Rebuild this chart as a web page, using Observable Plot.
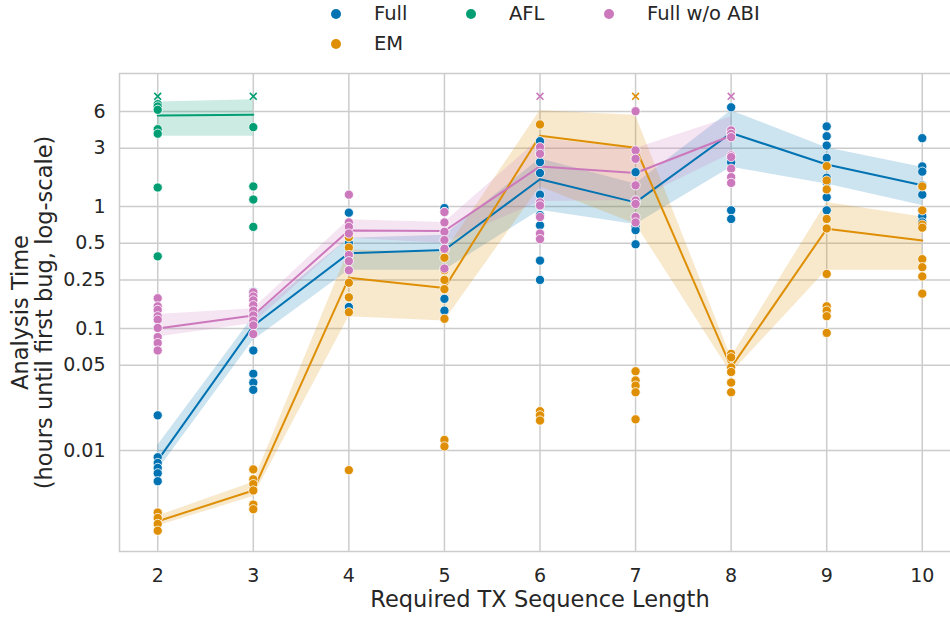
<!DOCTYPE html>
<html><head><meta charset="utf-8">
<script src="https://cdn.jsdelivr.net/npm/d3@7"></script>
<script src="https://cdn.jsdelivr.net/npm/@observablehq/plot@0.6"></script>
<style>
body{margin:0;background:#fff;font-family:"DejaVu Sans",sans-serif;}
#wrap{position:relative;width:950px;height:617px;overflow:hidden;}
#wrap svg{max-width:none !important;display:block;}
.leg{position:absolute;font-size:19.5px;color:#262626;line-height:1;white-space:nowrap;transform:translateY(-50%);}
.ldot{position:absolute;width:10px;height:10px;border-radius:50%;transform:translate(-50%,-50%);}
</style></head><body><div id="wrap"></div>
<script>
// ---- data ----
const seriesNames = ["Full", "EM", "AFL", "Full w/o ABI"];
const seriesColors = ["#0173b2", "#de8f05", "#029e73", "#cc78bc"];
const xTicks = [2, 3, 4, 5, 6, 7, 8, 9, 10];
const yTicks = [0.01, 0.05, 0.1, 0.25, 0.5, 1, 3, 6];
const yTickLabels = ["0.01", "0.05", "0.1", "0.25", "0.5", "1", "3", "6"];
const xLabel = "Required TX Sequence Length";
const yLabel = "Analysis Time\n(hours until first bug, log-scale)";
const timeoutHours = 8;

// individual runs (hours), by sequence length
const fullPoints = {
  2: [0.0194, 0.0088, 0.0079, 0.0072, 0.0065, 0.0056],
  3: [0.2, 0.19, 0.115, 0.066, 0.0425, 0.036, 0.0314],
  4: [0.89, 0.5, 0.41, 0.18, 0.15],
  5: [0.97, 0.9, 0.45, 0.175, 0.14],
  6: [3.43, 2.78, 2.31, 1.88, 1.25, 0.85, 0.7, 0.36, 0.25],
  7: [1.91, 1.12, 0.68, 0.64, 0.49],
  8: [6.5, 4.07, 2.3, 0.93, 0.79],
  9: [4.53, 3.77, 3.16, 2.5, 1.72, 1.58, 1.19, 0.93],
  10: [3.63, 2.13, 1.93, 1.49, 1.25, 0.93, 0.83, 0.74]
};
const emPoints = {
  2: [0.0031, 0.0028, 0.0025, 0.0022],
  3: [0.007, 0.0058, 0.0053, 0.0047, 0.0036, 0.0033],
  4: [0.56, 0.46, 0.237, 0.18, 0.136, 0.0069],
  5: [0.44, 0.38, 0.3, 0.25, 0.21, 0.12, 0.0122, 0.0108],
  6: [4.7, 0.021, 0.0194, 0.0176],
  7: [0.0446, 0.0375, 0.034, 0.03, 0.018],
  8: [0.062, 0.058, 0.048, 0.044, 0.036, 0.03],
  9: [2.14, 1.63, 1.38, 0.79, 0.66, 0.28, 0.152, 0.14, 0.126, 0.092],
  10: [1.46, 0.93, 0.71, 0.67, 0.37, 0.318, 0.267, 0.193]
};
const aflPoints = {
  2: [6.9, 6.6, 6.2, 4.3, 3.95, 1.43, 0.39],
  3: [4.47, 1.46, 1.14, 0.68]
};
const abiPoints = {
  2: [0.177, 0.152, 0.142, 0.126, 0.118, 0.101, 0.085, 0.076, 0.066],
  3: [0.198, 0.183, 0.17, 0.155, 0.14, 0.128, 0.116, 0.106, 0.09],
  4: [1.25, 0.74, 0.68, 0.6, 0.4, 0.356, 0.3],
  5: [0.9, 0.74, 0.62, 0.53, 0.45, 0.31],
  6: [3.06, 2.7, 1.08, 1.02, 0.82, 0.6, 0.54],
  7: [6.04, 2.88, 2.46, 1.49, 1.12, 1.05, 0.82, 0.74],
  8: [4.2, 3.94, 3.7, 2.62, 2.54, 2.04, 1.74, 1.56]
};
// runs that hit the time budget
const timeoutSeries = ["AFL", "AFL", "Full w/o ABI", "EM", "Full w/o ABI"];
const timeoutX = [2, 3, 6, 7, 8];

// mean line and confidence band, by sequence length
const fullX = [2, 3, 4, 5, 6, 7, 8, 9, 10];
const fullMean = [0.0083, 0.105, 0.414, 0.44, 1.67, 1.08, 4.0, 2.21, 1.49];
const fullLo = [0.0069, 0.08, 0.3, 0.3, 0.93, 0.71, 2.1, 1.53, 1.02];
const fullHi = [0.011, 0.125, 0.55, 0.58, 2.46, 1.53, 6.1, 3.03, 2.1];
const emX = [2, 3, 4, 5, 6, 7, 8, 9, 10];
const emMean = [0.00263, 0.0047, 0.26, 0.215, 3.8, 3.03, 0.048, 0.656, 0.527];
const emLo = [0.0024, 0.0042, 0.125, 0.115, 1.45, 0.72, 0.043, 0.3, 0.3];
const emHi = [0.0029, 0.0055, 0.44, 0.42, 6.1, 5.6, 0.058, 1.08, 0.82];
const aflX = [2, 3];
const aflMean = [5.57, 5.65];
const aflLo = [3.77, 3.77];
const aflHi = [7.17, 7.5];
const abiX = [2, 3, 4, 5, 6, 7, 8];
const abiMean = [0.1, 0.128, 0.636, 0.63, 2.13, 1.88, 3.8];
const abiLo = [0.085, 0.11, 0.55, 0.5, 1.1, 1.12, 2.7];
const abiHi = [0.13, 0.145, 0.78, 0.74, 3.6, 2.98, 5.4];

// ---- tables ----
const pointSets = [["Full", fullPoints], ["EM", emPoints], ["AFL", aflPoints], ["Full w/o ABI", abiPoints]];
const pointRows = [];
for (const [s, obj] of pointSets) for (const k of Object.keys(obj)) for (const v of obj[k]) pointRows.push({series: s, x: +k, v});
const lineSets = [["Full", fullX, fullMean, fullLo, fullHi], ["EM", emX, emMean, emLo, emHi], ["AFL", aflX, aflMean, aflLo, aflHi], ["Full w/o ABI", abiX, abiMean, abiLo, abiHi]];
const lineRows = [];
for (const [s, xs, m, lo, hi] of lineSets) xs.forEach((x, i) => lineRows.push({series: s, x, mean: m[i], lo: lo[i], hi: hi[i]}));
const timeoutRows = timeoutX.map((x, i) => ({series: timeoutSeries[i], x}));

const ink = "#262626", gridC = "#cccccc";
const chart = Plot.plot({
  width: 962, height: 617,
  marginTop: 73, marginBottom: 66, marginLeft: 119, marginRight: 2,
  style: {fontFamily: "DejaVu Sans", fontSize: "19px", color: ink, background: "white", overflow: "hidden", maxWidth: "none"},
  x: {type: "linear", domain: [1.6, 10.4], axis: null},
  y: {type: "log", domain: [0.001486, 12.3], axis: null},
  color: {domain: seriesNames, range: seriesColors},
  marks: [
    Plot.ruleX(xTicks, {stroke: gridC, strokeWidth: 1.5}),
    Plot.ruleY(yTicks, {stroke: gridC, strokeWidth: 1.5}),
    Plot.frame({stroke: gridC, strokeWidth: 1.5}),
    Plot.areaY(lineRows, {x: "x", y1: "lo", y2: "hi", fill: "series", fillOpacity: 0.2, z: "series"}),
    Plot.line(lineRows, {x: "x", y: "mean", stroke: "series", strokeWidth: 2, z: "series"}),
    Plot.dot(pointRows, {x: "x", y: "v", fill: "series", stroke: "white", strokeWidth: 0.8, r: 4.6}),
    Plot.dot(timeoutRows, {x: "x", y: () => timeoutHours, stroke: "series", symbol: "times", r: 3.2, strokeWidth: 1.6}),
    // tick labels
    Plot.text(xTicks, {x: d => d, frameAnchor: "bottom", lineAnchor: "middle", textAnchor: "middle", dy: 24, text: d => String(d), fill: ink, fontSize: 19}),
    Plot.text(yTicks, {y: d => d, frameAnchor: "left", textAnchor: "end", lineAnchor: "middle", dx: -14, text: (d, i) => yTickLabels[i], fill: ink, fontSize: 19}),
    // axis labels
    Plot.text([yLabel], {frameAnchor: "left", textAnchor: "middle", lineAnchor: "middle", rotate: -90, dx: -87, fontSize: 22.5, lineHeight: 1.07, text: d => d, fill: ink}),
    Plot.text([xLabel], {frameAnchor: "bottom", textAnchor: "middle", lineAnchor: "middle", dy: 48, fontSize: 22.5, text: d => d, fill: ink})
  ]
});
chart.style.maxWidth = "none";
const wrap = document.getElementById("wrap");
wrap.appendChild(chart);

// legend (3 columns, filled column-wise)
const legPos = [[336, 14], [336, 44], [471, 14], [609, 14]];
seriesNames.forEach((s, i) => {
  const [cx, cy] = legPos[i];
  const d = document.createElement("div");
  d.className = "ldot"; d.style.left = cx + "px"; d.style.top = cy + "px"; d.style.background = seriesColors[i];
  wrap.appendChild(d);
  const t = document.createElement("div");
  t.className = "leg"; t.style.left = (cx + 38) + "px"; t.style.top = cy + "px"; t.textContent = s;
  wrap.appendChild(t);
});
</script></body></html>
